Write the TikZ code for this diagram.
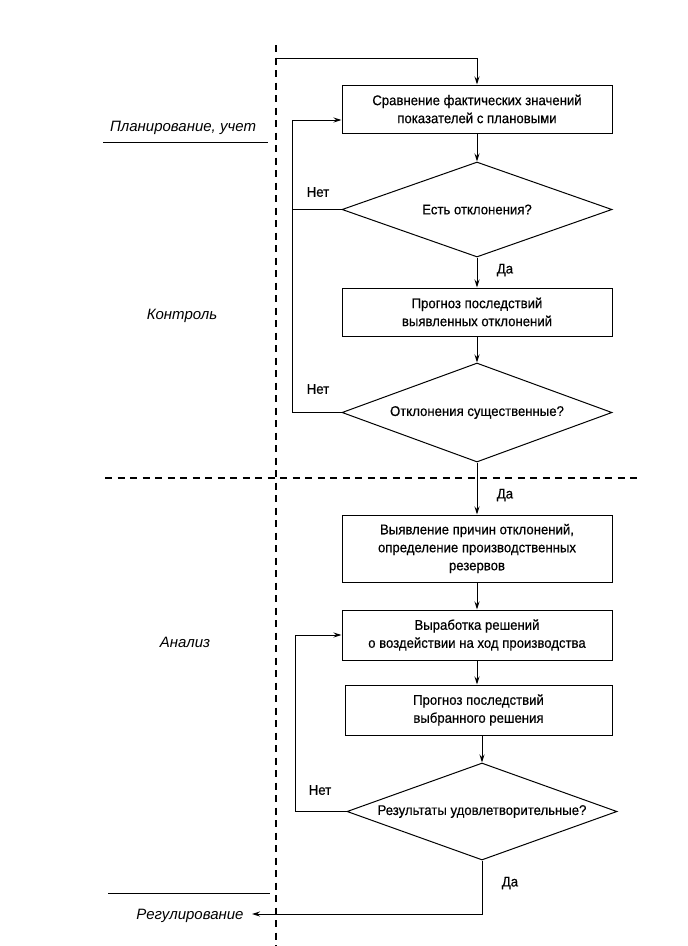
\documentclass[tikz,border=0pt]{standalone}
\usepackage{fontspec}
\setmainfont{Liberation Sans}[FakeStretch=0.94,FakeBold=0.4]
\newfontfamily\lblfont{Liberation Sans}
\usetikzlibrary{shapes.geometric,arrows.meta}
\begin{document}
\begin{tikzpicture}[x=1pt,y=-1pt,line width=1pt,
  >={Stealth[length=8pt,width=5pt]},
  block/.style={draw,rectangle,align=center,inner sep=0pt,minimum width=270pt,font=\fontsize{14}{18}\selectfont},
  decision/.style={draw,diamond,inner sep=0pt,minimum width=270pt,font=\fontsize{14}{18}\selectfont},
  lbl/.style={font=\lblfont\fontsize{15}{17}\selectfont\itshape},
  yn/.style={font=\fontsize{14}{16}\selectfont},
  sep/.style={line width=1.3pt,dash pattern=on 7pt off 5.5pt}]
\useasboundingbox (0,0) rectangle (688,946);
\fill[white] (0,0) rectangle (688,946);
% separators
\draw[sep] (276,45) -- (276,946);
\draw[sep] (105,478) -- (640,478);
\draw (103,142) -- (268,142);
\draw (108,893) -- (270,893);
% section labels
\node[lbl] (plan) at (183,128) {Планирование, учет};
\node[lbl] (kontr) at (182,316) {Контроль};
\node[lbl] (anal) at (185,642) {Анализ};
\node[lbl] (regul) at (190,916) {Регулирование};
% blocks
\node[block,minimum height=48pt] (b1) at (477,109) {Сравнение фактических значений\\показателей с плановыми};
\node[decision,aspect=2.842,minimum height=95pt] (d1) at (477,209.5) {Есть отклонения?};
\node[block,minimum height=48pt] (b2) at (477,312) {Прогноз последствий\\выявленных отклонений};
\node[decision,aspect=2.727,minimum height=99pt] (d2) at (477,412.5) {Отклонения существенные?};
\node[block,minimum height=67pt] (b3) at (477,548.5) {Выявление причин отклонений,\\определение производственных\\резервов};
\node[block,minimum height=50pt] (b4) at (477,635) {Выработка решений\\о воздействии на ход производства};
\node[block,minimum width=267pt,minimum height=50pt] (b5) at (478.5,710) {Прогноз последствий\\выбранного решения};
\node[decision,aspect=2.784,minimum height=97pt] (d3) at (482,811.5) {Результаты удовлетворительные?};
% yes/no labels
\node[yn] (n1) at (318,192) {Нет};
\node[yn] (n2) at (318,389) {Нет};
\node[yn] (n3) at (320,790) {Нет};
\node[yn] (y1) at (505,270) {Да};
\node[yn] (y2) at (505,495) {Да};
\node[yn] (y3) at (510,883) {Да};
% connectors
\coordinate (start) at (276,58);
\coordinate (out) at (252,914);
\draw[->] (start) -| (b1.north);
\draw[->] (b1.south) -- (d1.north);
\draw[->] (d1.south) -- (b2.north);
\draw[->] (b2.south) -- (d2.north);
\draw[->] (d2.south) -- (b3.north);
\draw[->] (b3.south) -- (b4.north);
\draw[->] (b4.south) -- (b5.north -| b4.south);
\draw[->] (b5.south -| d3.north) -- (d3.north);
\draw[->] (d1.west) -- ++(-49,0) |- ([yshift=-11pt]b1.west);
\draw (d2.west) -- ++(-49,0) |- (d1.west);
\draw[->] (d3.west) -- ++(-51,0) |- (b4.west);
\draw[->] (d3.south) |- (out);
\end{tikzpicture}
\end{document}
